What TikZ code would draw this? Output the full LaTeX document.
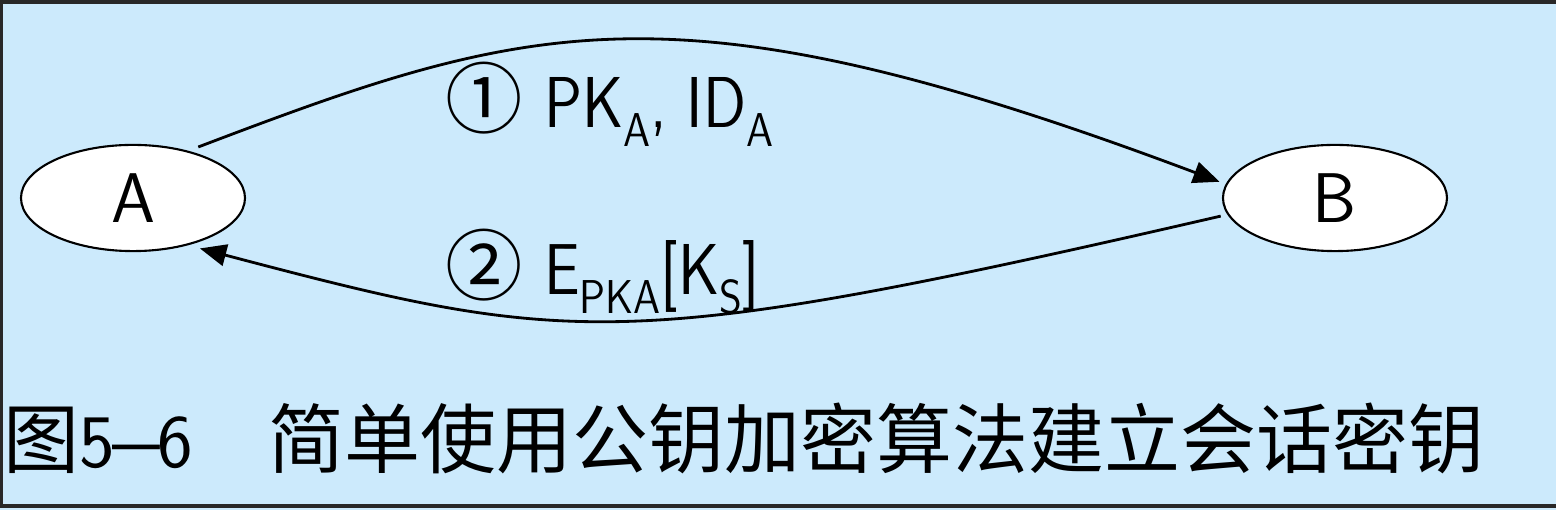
\documentclass[tikz,border=0pt]{standalone}
\usepackage{fontspec}
\usepackage{graphicx}
\newfontfamily\cjk{Noto Sans CJK SC}
\usetikzlibrary{arrows.meta,shapes.geometric}
\definecolor{bgblue}{RGB}{204,234,252}
\definecolor{framegray}{RGB}{40,40,40}
\newcommand\sbs[1]{\raisebox{-5.3pt}{\fontsize{13.5}{13.5}\selectfont #1}}
\newcommand\nar[1]{\scalebox{0.88}[1]{#1}}
\begin{document}
\begin{tikzpicture}[x=0.01cm,y=-0.01cm,
  party/.style={ellipse,draw=black,line width=0.6pt,fill=white,minimum width=63.7pt,minimum height=30.2pt,inner sep=0pt,outer sep=2.2pt,font=\sffamily\fontsize{20}{20}\selectfont},
  msg/.style={line width=0.8pt,-{Triangle[length=7.5pt,width=6.2pt]}},
  lbl/.style={anchor=base west,inner sep=0pt,font=\sffamily\fontsize{20.5}{20.5}\selectfont},
  captext/.style={anchor=base west,inner sep=0pt}]
\useasboundingbox (0,0) rectangle (1556,510);
\fill[bgblue] (0,0) rectangle (1556,510);
\draw[framegray,line width=0.9pt] (1560,2) -- (1.5,2) -- (1.5,506) -- (1560,506);
\node[party] (A) at (133,198) {A};
\node[party] (B) at (1335,198) {B};
\draw[msg] (A.38) .. controls (532,20) and (675,-23) .. (B.172);
\draw[msg] (B.189) .. controls (623,354) and (570,346) .. (A.-37);
\node[lbl] (m1) at (445,128) {{\cjk\fontsize{22}{22}\selectfont ①}\hspace{6pt}\nar{PK\sbs{A}, ID\sbs{A}}};
\node[lbl] (m2) at (445,295) {{\cjk\fontsize{22}{22}\selectfont ②}\hspace{6pt}\nar{E\sbs{PKA}[K\sbs{S}]}};
\node[captext] (c1) at (3,468) {\cjk\fontsize{21.6}{21.6}\selectfont 图{\sffamily\fontsize{21.5}{21.5}\selectfont 5\kern-0.8pt\scalebox{1.35}[1]{\textendash}\kern-0.8pt 6}};
\node[captext] (c2) at (268,468) {\cjk\fontsize{21.6}{21.6}\selectfont 简单使用公钥加密算法建立会话密钥};
\end{tikzpicture}
\end{document}
